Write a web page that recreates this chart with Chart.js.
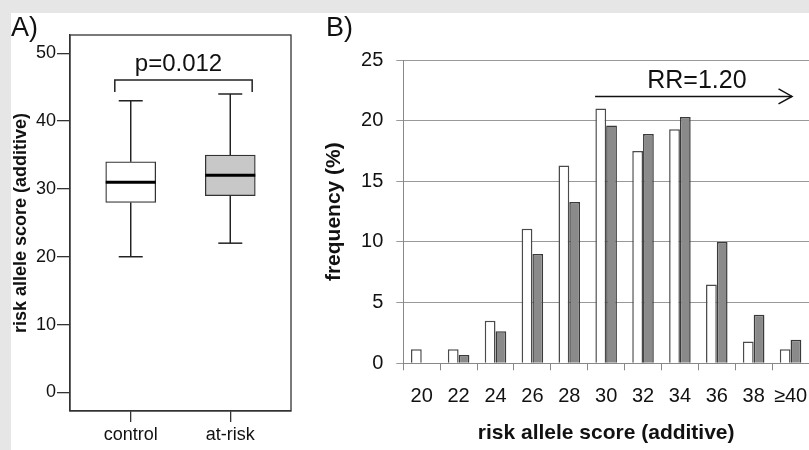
<!DOCTYPE html>
<html><head><meta charset="utf-8">
<script src="https://cdn.jsdelivr.net/npm/chart.js@4"></script>
<style>
html,body{margin:0;padding:0;background:#e6e6e6;width:809px;height:450px;overflow:hidden}
#panel{position:absolute;left:11px;top:13px;width:798px;height:437px;background:#fff}
#cA{position:absolute;left:0;top:0}
#cB{position:absolute;left:320px;top:0}
.lbl{position:absolute;font-family:'Liberation Sans',Arial,sans-serif;font-size:27px;line-height:27px;color:#111;top:14px}
</style></head>
<body>
<div id="panel"></div>
<canvas id="cA" width="320" height="450"></canvas>
<canvas id="cB" width="489" height="450"></canvas>
<div class="lbl" style="left:11px">A)</div>
<div class="lbl" style="left:326px">B)</div>
<script>
// ---- Panel A: box plot data ----
const boxCategories = ['control', 'at-risk'];
const boxMin    = [20, 22];
const boxQ1     = [28, 29];
const boxMedian = [31, 32];
const boxQ3     = [34, 35];
const boxMax    = [43, 44];
const boxTicks  = [0, 10, 20, 30, 40, 50];
const pValueLabel = 'p=0.012';

// ---- Panel B: histogram data ----
const histCategories = ['20', '22', '24', '26', '28', '30', '32', '34', '36', '38', '≥40'];
const controlFreq = [1.15, 1.15, 3.5, 11.1, 16.3, 21.0, 17.5, 19.3, 6.5, 1.8, 1.15];
const atRiskFreq  = [0, 0.68, 2.65, 9.0, 13.3, 19.6, 18.9, 20.3, 10.0, 4.0, 1.95];
const freqTicks   = [0, 5, 10, 15, 20, 25];
const rrLabel = 'RR=1.20';

const FAM = "'Liberation Sans', Arial, sans-serif";

const boxPlugin = {
  id: 'boxExtras',
  afterDatasetsDraw(chart) {
    const {ctx, chartArea: a, scales: {x, y}} = chart;
    ctx.save();
    ctx.strokeStyle = '#333';
    ctx.lineWidth = 1.3;
    ctx.strokeRect(a.left, a.top, a.right - a.left, a.bottom - a.top);
    const line = (x1, y1, x2, y2) => { ctx.beginPath(); ctx.moveTo(x1, y1); ctx.lineTo(x2, y2); ctx.stroke(); };
    boxCategories.forEach((c, i) => {
      const cx = x.getPixelForValue(i + 1);
      ctx.strokeStyle = '#222'; ctx.lineWidth = 1.5;
      line(cx, y.getPixelForValue(boxQ3[i]), cx, y.getPixelForValue(boxMax[i]));
      line(cx, y.getPixelForValue(boxQ1[i]), cx, y.getPixelForValue(boxMin[i]));
      line(cx - 12, y.getPixelForValue(boxMax[i]), cx + 12, y.getPixelForValue(boxMax[i]));
      line(cx - 12, y.getPixelForValue(boxMin[i]), cx + 12, y.getPixelForValue(boxMin[i]));
      ctx.strokeStyle = '#000'; ctx.lineWidth = 3;
      line(cx - 25, y.getPixelForValue(boxMedian[i]), cx + 25, y.getPixelForValue(boxMedian[i]));
    });
    // significance bracket
    ctx.strokeStyle = '#222'; ctx.lineWidth = 1.5;
    const bl = x.getPixelForValue(0.84), br = x.getPixelForValue(2.22);
    const bt = y.getPixelForValue(46.06), bb = y.getPixelForValue(44.3);
    ctx.beginPath(); ctx.moveTo(bl, bb); ctx.lineTo(bl, bt); ctx.lineTo(br, bt); ctx.lineTo(br, bb); ctx.stroke();
    ctx.fillStyle = '#111';
    ctx.font = '24px ' + FAM;
    ctx.textAlign = 'center'; ctx.textBaseline = 'alphabetic';
    ctx.fillText(pValueLabel, x.getPixelForValue(1.48), y.getPixelForValue(47.4));
    ctx.restore();
  }
};

new Chart(document.getElementById('cA'), {
  type: 'bar',
  data: { datasets: [{
    data: boxCategories.map((c, i) => ({x: i + 1, y: [boxQ1[i], boxQ3[i]]})),
    backgroundColor: ['#ffffff', '#c8c8c8'],
    borderColor: '#333', borderWidth: 1.3, borderSkipped: false, barThickness: 50
  }]},
  options: {
    responsive: false, animation: false, events: [],
    layout: { padding: { top: 35, right: 29, bottom: 0, left: 0 } },
    plugins: { legend: { display: false }, tooltip: { enabled: false } },
    scales: {
      x: {
        type: 'linear', min: 0.39, max: 2.61, offset: false,
        afterBuildTicks: s => { s.ticks = boxCategories.map((c, i) => ({ value: i + 1 })); },
        afterFit: s => { s.height = 39; s.paddingLeft = 0; s.paddingRight = 0; },
        ticks: { callback: v => boxCategories[v - 1], font: { family: FAM, size: 18 }, color: '#111', padding: 2, maxRotation: 0, autoSkip: false },
        grid: { drawOnChartArea: false, offset: false, tickLength: 11, color: '#333', lineWidth: 1.3 },
        border: { display: true, color: '#333', width: 1.3 }
      },
      y: {
        min: -2.75, max: 52.7,
        afterBuildTicks: s => { s.ticks = boxTicks.map(v => ({ value: v })); },
        afterFit: s => { s.width = 70; s.paddingTop = 0; s.paddingBottom = 0; },
        ticks: { font: { family: FAM, size: 18 }, color: '#111', padding: 1 },
        grid: { drawOnChartArea: false, tickLength: 13, color: '#333', lineWidth: 1.3 },
        border: { display: true, color: '#333', width: 1.3 },
        title: { display: true, text: 'risk allele score (additive)', font: { family: FAM, size: 18, weight: 'bold' }, color: '#111', padding: { top: 10, bottom: 0 } }
      }
    }
  },
  plugins: [boxPlugin]
});

const rrPlugin = {
  id: 'rr',
  afterDatasetsDraw(chart) {
    const {ctx, scales: {x, y}} = chart;
    ctx.save();
    ctx.strokeStyle = '#111'; ctx.lineWidth = 1.5;
    const x1 = x.getPixelForValue(4.7), x2 = x.getPixelForValue(10.04), yy = y.getPixelForValue(22.0);
    ctx.beginPath(); ctx.moveTo(x1, yy); ctx.lineTo(x2, yy); ctx.stroke();
    ctx.beginPath(); ctx.moveTo(x2 - 13.5, yy - 7.5); ctx.lineTo(x2, yy); ctx.lineTo(x2 - 13.5, yy + 7.5); ctx.stroke();
    ctx.fillStyle = '#111';
    ctx.font = '25px ' + FAM;
    ctx.textAlign = 'center'; ctx.textBaseline = 'alphabetic';
    ctx.fillText(rrLabel, x.getPixelForValue(7.46), y.getPixelForValue(22.67));
    ctx.restore();
  }
};

new Chart(document.getElementById('cB'), {
  type: 'bar',
  data: { labels: histCategories, datasets: [
    { label: 'control', data: controlFreq, backgroundColor: '#ffffff', borderColor: '#4a4a4a', borderWidth: 1.5 },
    { label: 'at-risk', data: atRiskFreq, backgroundColor: '#8a8a8a', borderColor: '#3a3a3a', borderWidth: 1.5 }
  ]},
  options: {
    responsive: false, animation: false, events: [],
    layout: { padding: { top: 60, right: 0, bottom: 0, left: 0 } },
    datasets: { bar: { categoryPercentage: 0.584, barPercentage: 1 } },
    plugins: { legend: { display: false }, tooltip: { enabled: false } },
    scales: {
      x: {
        afterFit: s => { s.height = 86.7; s.paddingLeft = 0; s.paddingRight = 0; },
        ticks: { font: { family: FAM, size: 20 }, color: '#111', padding: 14, autoSkip: false, maxRotation: 0 },
        grid: { drawOnChartArea: false, offset: true, tickLength: 7, color: '#888' },
        border: { display: true, color: '#888' },
        title: { display: true, text: 'risk allele score (additive)', font: { family: FAM, size: 21, weight: 'bold' }, color: '#111', padding: { top: 0, bottom: 4 } }
      },
      y: {
        min: 0, max: 25,
        afterBuildTicks: s => { s.ticks = freqTicks.map(v => ({ value: v })); },
        afterFit: s => { s.width = 83.3; s.paddingTop = 0; s.paddingBottom = 0; },
        ticks: { font: { family: FAM, size: 20 }, color: '#111', padding: 13 },
        grid: { color: '#999', tickLength: 7 },
        border: { display: true, color: '#888' },
        title: { display: true, text: 'frequency (%)', font: { family: FAM, size: 21, weight: 'bold' }, color: '#111', padding: { top: 2, bottom: 0 } }
      }
    }
  },
  plugins: [rrPlugin]
});
</script>
</body></html>
